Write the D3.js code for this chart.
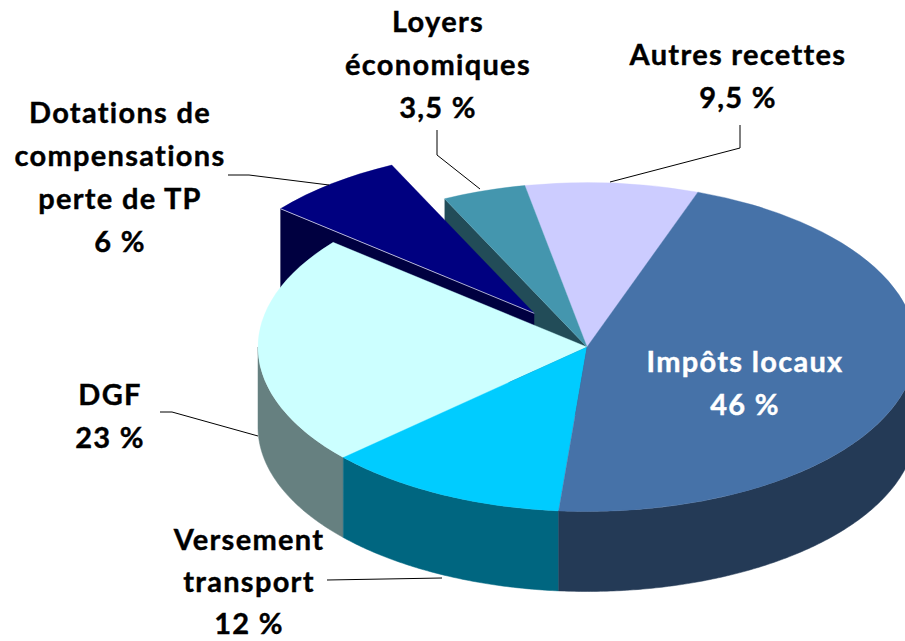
<!DOCTYPE html>
<html>
<head>
<meta charset="utf-8">
<script src="https://cdn.jsdelivr.net/npm/d3@7"></script>
<style>
  html, body { margin: 0; padding: 0; background: #fff; overflow: hidden; }
  text { font-family: Lato, "Open Sans", sans-serif; font-weight: 700; font-size: 29px; letter-spacing: 1.3px; stroke-width: 0.4px; }
</style>
</head>
<body>
<script>
// Slices, clockwise from the start angle. Shares are read off the drawn pie,
// which differs a little from the printed labels because of the 3D view
var categories = ["Impôts locaux", "Versement transport", "DGF", "Dotations de compensations", "Loyers économiques", "Autres recettes"];
var shares = [45.9, 11.9, 22.7, 6.9, 4.1, 8.5];
var exploded = [0, 0, 0, 0.26, 0, 0];
var topColors = ["#4672a8", "#00ccff", "#ccffff", "#000080", "#4496ae", "#ccccff"];
var sideColors = ["#243a56", "#006680", "#668080", "#000040", "#224c58", "#666680"];

// Label lines
var labelLines = [
  ["Impôts locaux", "46 %"],
  ["Versement", "transport", "12 %"],
  ["DGF", "23 %"],
  ["Dotations de", "compensations", "perte de TP", "6 %"],
  ["Loyers", "économiques", "3,5 %"],
  ["Autres recettes", "9,5 %"]
];
var labelAnchors = [[745, 372], [249, 550], [110, 405], [120, 123], [438, 32], [738, 65]];
var labelSpacing = [43, 42, 43, 43, 43, 43];
var leaders = [
  null,
  [[327, 580], [442, 578]],
  [[160, 412], [172, 412], [258, 436]],
  [[228, 175], [249, 175], [329, 185]],
  [[437, 130], [437, 155], [480, 189]],
  [[740, 125], [740, 148], [610, 182]]
];

var svgWidth = 905;
var svgHeight = 641;
var cx = 587, cy = 347;
var radius = 329;
var tilt = 0.5;
var depth = 80;
var startDeg = 19.7;

var svg = d3.select("body").append("svg")
  .attr("width", svgWidth)
  .attr("height", svgHeight)
  .style("display", "block");

var pie = d3.pie().sort(null).startAngle(startDeg * Math.PI / 180).endAngle((startDeg + 360) * Math.PI / 180);
var arc = d3.arc().innerRadius(0).outerRadius(radius);
var slices = pie(shares).map(function(d, i) {
  var mid = (d.startAngle + d.endAngle) / 2;
  d.dx = exploded[i] * radius * Math.sin(mid);
  d.dy = -exploded[i] * radius * Math.cos(mid) * tilt;
  d.i = i;
  return d;
});

function rimX(d, a) { return cx + d.dx + radius * Math.sin(a); }
function rimY(d, a) { return cy + d.dy - radius * tilt * Math.cos(a); }

// Outer wall, only the front half of the rim can be seen
function drawRim(g, d) {
  var a0 = Math.max(d.startAngle, Math.PI / 2);
  var a1 = Math.min(d.endAngle, 3 * Math.PI / 2);
  if (a1 <= a0) return;
  var area = d3.area()
    .x(function(a) { return rimX(d, a); })
    .y0(function(a) { return rimY(d, a); })
    .y1(function(a) { return rimY(d, a) + depth; });
  g.append("path")
    .attr("d", area(d3.range(a0, a1, 0.01).concat([a1])))
    .attr("fill", sideColors[d.i])
    .attr("stroke", sideColors[d.i])
    .attr("stroke-width", 0.5);
}

// Flat wall along the leading radius of a slice
function drawRadialWall(g, d) {
  var x0 = cx + d.dx, y0 = cy + d.dy;
  var x1 = rimX(d, d.startAngle), y1 = rimY(d, d.startAngle);
  g.append("path")
    .attr("d", d3.line()([[x0, y0], [x1, y1], [x1, y1 + depth], [x0, y0 + depth]]) + "Z")
    .attr("fill", sideColors[d.i]);
}

function drawTop(g, d) {
  g.append("path")
    .attr("d", arc(d))
    .attr("transform", "translate(" + (cx + d.dx) + "," + (cy + d.dy) + ") scale(1," + tilt + ")")
    .attr("fill", topColors[d.i])
    .attr("stroke", topColors[d.i])
    .attr("stroke-width", 0.5);
}

var chart = svg.append("g");

// Painter's order: back slices first, the big front slice last
[5, 4, 3, 2, 1, 0].forEach(function(i) {
  var d = slices[i];
  var g = chart.append("g").attr("class", "slice");
  if (i === 3 || i === 4) drawRadialWall(g, d);
  drawRim(g, d);
  drawTop(g, d);
  if (i === 3) {
    g.append("line")
      .attr("x1", cx + d.dx).attr("y1", cy + d.dy)
      .attr("x2", rimX(d, d.startAngle)).attr("y2", rimY(d, d.startAngle))
      .attr("stroke", "#d8d8e8")
      .attr("stroke-width", 0.8);
  }
});

// Leader lines
var leaderLine = d3.line();
svg.selectAll(".leader")
  .data(leaders.filter(function(d) { return d; }))
  .enter()
  .append("path")
  .attr("class", "leader")
  .attr("d", leaderLine)
  .attr("fill", "none")
  .attr("stroke", "#000")
  .attr("stroke-width", 1);

// Labels
svg.selectAll(".label")
  .data(labelLines)
  .enter()
  .append("text")
  .attr("class", "label")
  .attr("text-anchor", "middle")
  .attr("fill", function(d, i) { return i === 0 ? "#fff" : "#000"; })
  .attr("stroke", function(d, i) { return i === 0 ? "#fff" : "#000"; })
  .each(function(lines, i) {
    d3.select(this).selectAll("tspan")
      .data(lines)
      .enter()
      .append("tspan")
      .attr("x", labelAnchors[i][0])
      .attr("y", function(d, j) { return labelAnchors[i][1] + j * labelSpacing[i]; })
      .text(function(d) { return d; });
  });
</script>
</body>
</html>
